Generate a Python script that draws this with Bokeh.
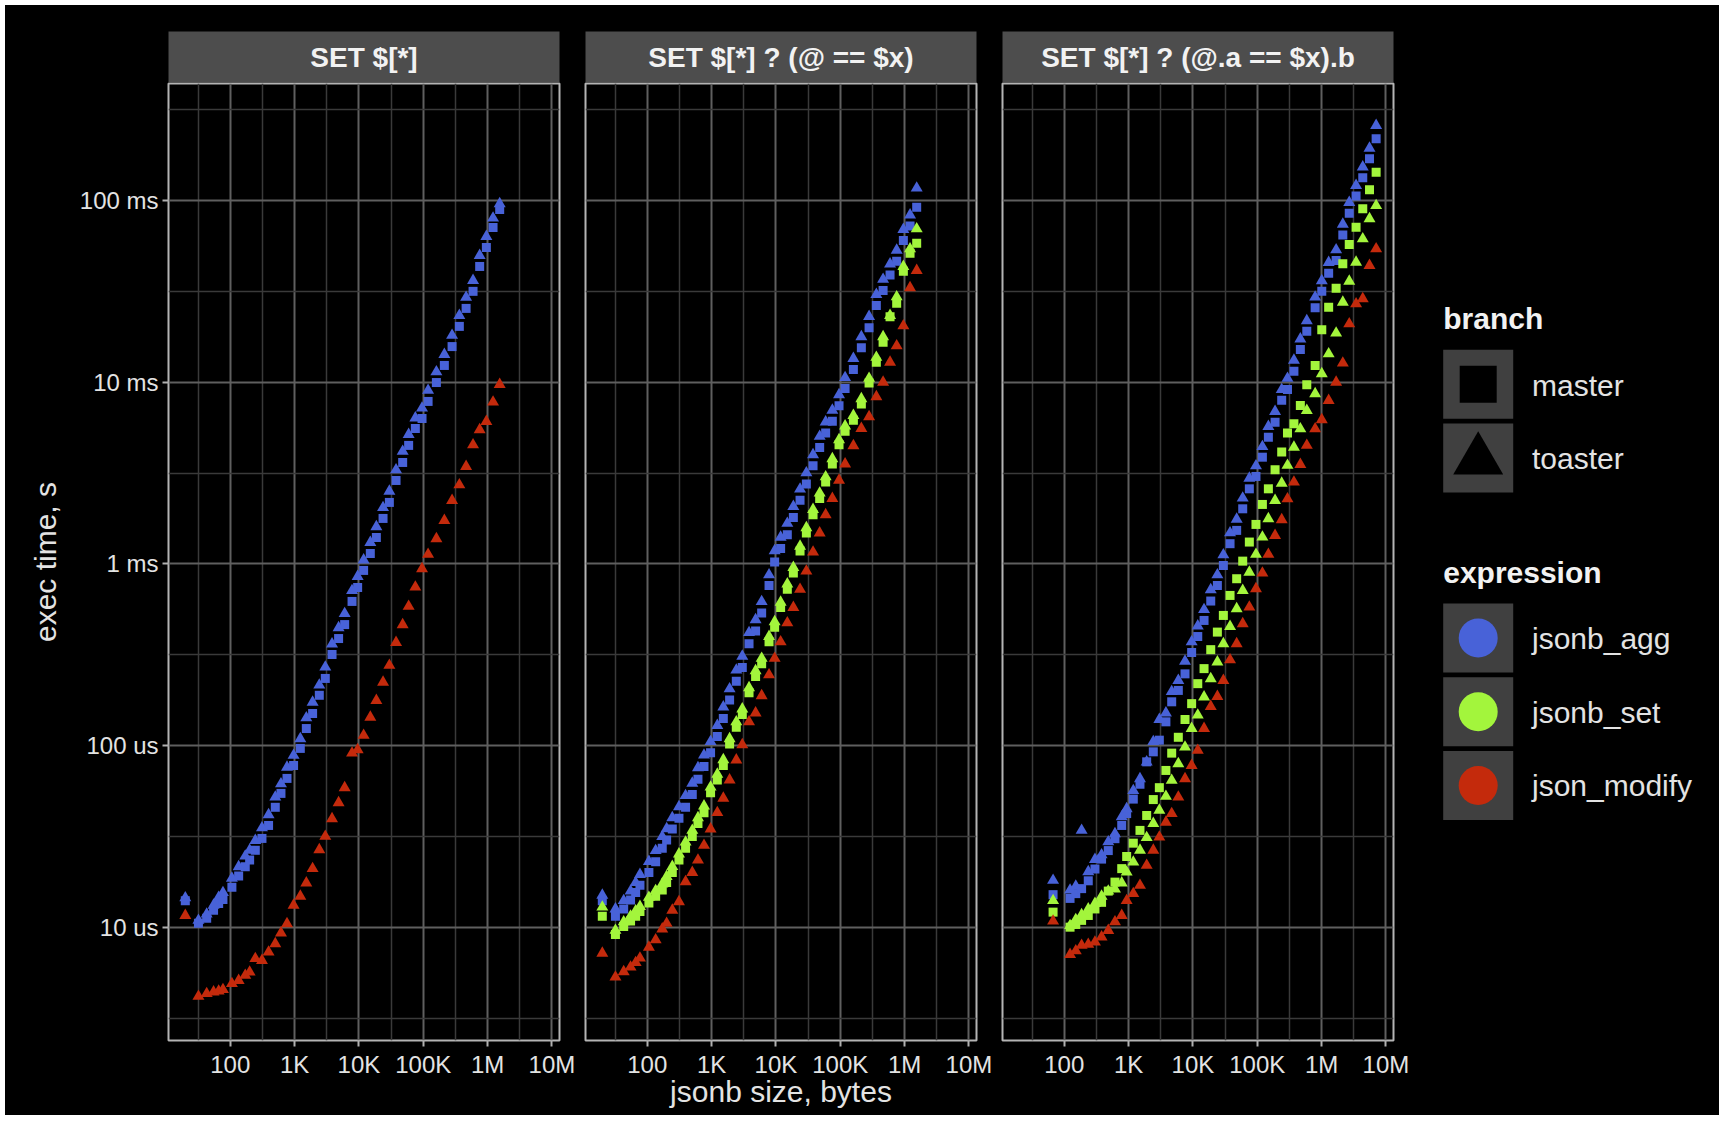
from bokeh.plotting import figure
from bokeh.layouts import row, column
from bokeh.models import Range1d, FixedTicker
from bokeh.core.properties import value
from bokeh.embed import file_html
from bokeh.resources import INLINE

FONT = "Liberation Sans"
BG = "#000000"

PANELS = ["SET $[*]", "SET $[*] ? (@ == $x)", "SET $[*] ? (@.a == $x).b"]
EXPRESSIONS = ["jsonb_agg", "jsonb_set", "json_modify"]
BRANCHES = ["master", "toaster"]
COLORS = {"jsonb_agg": "#4862D8", "jsonb_set": "#A3F53C", "json_modify": "#C42A0C"}

X_TICKS = [1e2, 1e3, 1e4, 1e5, 1e6, 1e7]
X_LABELS = ["100", "1K", "10K", "100K", "1M", "10M"]
Y_TICKS = [1e-5, 1e-4, 1e-3, 1e-2, 1e-1]
Y_LABELS = ["10 us", "100 us", "1 ms", "10 ms", "100 ms"]

# jsonb sizes, bytes
SIZES_AB = [20, 32, 43, 55, 66, 77, 106, 135, 171, 200, 245, 311, 394, 501, 614, 762, 964,
            1227, 1521, 1905, 2421, 3000, 3819, 4831, 6000, 7816, 9550, 11830, 15030, 18660,
            23710, 29720, 37760, 47860, 59290, 75340, 95720, 118900, 160000, 212800, 280500,
            363900, 463400, 594300, 753400, 957200, 1216000, 1542000]
SIZES_C = [67, 123, 151, 186, 236, 300, 380, 483, 614, 782, 933, 1183, 1503, 1910, 2421, 3006,
           3802, 4677, 5929, 7534, 9550, 11890, 14890, 18920, 23990, 29720, 37760, 47860, 59430,
           75340, 95500, 120200, 148900, 189200, 239900, 295100, 371500, 467700, 588800, 794300,
           1007000, 1288000, 1683000, 2138000, 2692000, 3436000, 4365000, 5559000, 7047000]

# exec times, microseconds
P1_AGG_MASTER = [14.0, 10.5, 11.2, 12.4, 13.5, 14.2, 16.6, 19.1, 21.5, 23.4, 26.5, 30.8, 36.3, 45.7,
                 54.5, 65.9, 77.6, 96.4, 124, 150, 189, 234, 317, 388, 463, 621, 741, 920, 1140,
                 1396, 1778, 2178, 2877, 3614, 4487, 5559, 6310, 7834, 9954, 12360, 15700, 20280,
                 25470, 31620, 43350, 55080, 70960, 89130]
P1_AGG_TOASTER = [14.5, 10.9, 11.8, 13.2, 14.6, 15.5, 18.6, 21.5, 24.6, 26.5, 30.0, 35.2, 41.6, 52.0,
                  61.5, 75.9, 88.3, 109, 142, 173, 215, 270, 362, 445, 532, 712, 852, 1050, 1310,
                  1600, 2040, 2510, 3290, 4160, 5150, 6350, 7200, 9020, 11400, 14200, 18100, 23300,
                  29300, 36300, 49800, 63400, 80000, 96000]
P1_MOD_TOASTER = [11.6, 4.16, 4.31, 4.40, 4.45, 4.53, 4.89, 5.09, 5.43, 5.66, 6.71, 6.56, 7.29, 8.11,
                  9.29, 10.45, 13.2, 14.8, 17.5, 21.0, 26.7, 31.6, 39.5, 48.4, 58.6, 90.8, 94.8, 113.8,
                  143, 177, 223, 276, 369, 462, 583, 745, 940, 1127, 1374, 1734, 2234, 2723, 3436,
                  4519, 5470, 6081, 7762, 9705]

P2_AGG_MASTER = [14.0, 11.5, 12.6, 14.1, 15.5, 17.0, 20.0, 22.9, 27.2, 30.2, 34.7, 39.8, 45.7, 53.7,
                 65.3, 76.7, 91.2, 112, 141, 178, 226, 269, 363, 427, 537, 759, 1023, 1216, 1445,
                 1799, 2239, 2754, 3467, 4365, 5248, 6095, 7413, 9226, 11750, 15490, 19950, 26420,
                 31990, 38900, 46240, 60260, 72440, 91830]
P2_AGG_TOASTER = [15.0, 12.6, 14.0, 15.8, 17.6, 19.5, 23.0, 26.4, 31.5, 34.8, 40.0, 46.0, 53.0, 62.0,
                  75.5, 88.5, 105, 129, 163, 205, 260, 310, 418, 492, 620, 870, 1180, 1400, 1670,
                  2070, 2580, 3170, 3990, 5030, 6040, 7010, 8530, 10600, 13500, 17800, 23000, 30400,
                  36800, 44700, 53200, 69300, 83300, 117000]
P2_SET_MASTER = [11.5, 9.12, 10.1, 10.8, 11.5, 12.2, 13.6, 14.8, 16.0, 17.6, 20.0, 23.4, 27.2, 31.6,
                 37.2, 42.7, 55.0, 64.6, 77.6, 102, 126, 148, 195, 240, 282, 372, 447, 575, 724, 891,
                 1175, 1479, 1862, 2291, 2818, 3548, 4519, 5370, 6166, 7586, 9886, 12880, 16600,
                 22910, 27230, 40740, 51290, 58210]
P2_SET_TOASTER = [12.9, 9.6, 10.7, 11.5, 12.3, 13.0, 14.6, 15.9, 17.3, 19.0, 21.6, 25.3, 29.4, 34.1,
                  40.0, 46.5, 59.0, 69.5, 83.5, 109, 135, 159, 208, 258, 302, 398, 480, 615, 775, 955,
                  1250, 1580, 1990, 2450, 3010, 3790, 4820, 5740, 6560, 8100, 10500, 13700, 17800,
                  23300, 29500, 43300, 54200, 69800]
P2_MOD_TOASTER = [7.19, 5.31, 5.69, 6.03, 6.38, 6.76, 7.76, 8.51, 9.77, 10.5, 12.4, 13.8, 17.8, 20.0,
                  23.4, 28.2, 34.7, 42.7, 51.3, 64.6, 83.2, 101, 135, 151, 188, 245, 302, 372, 473,
                  575, 724, 912, 1161, 1479, 1862, 2291, 2884, 3548, 4467, 5559, 6457, 8318, 10000,
                  12880, 15850, 20420, 33110, 41210]

P3_AGG_MASTER = [15.1, 14.4, 15.3, 16.3, 18.0, 20.9, 23.7, 26.4, 30.7, 36.3, 42.2, 50.7, 61.2, 81.3,
                 92.3, 107, 135, 174, 201, 248, 325, 398, 488, 624, 760, 979, 1291, 1528, 2009, 2588,
                 3027, 3864, 4977, 6026, 7943, 9120, 11480, 15140, 19050, 25700, 31620, 39810, 46770,
                 64570, 85110, 105900, 133400, 169800, 218800]
P3_AGG_TOASTER = [18.1, 16.0, 16.8, 34.1, 20.2, 23.6, 25.0, 29.5, 32.7, 40.5, 44.9, 56.5, 65.6, 81.1,
                  105, 139, 151, 198, 228, 291, 372, 455, 560, 720, 870, 1120, 1480, 1760, 2300, 2960,
                  3460, 4420, 5700, 6900, 9100, 10500, 13200, 17300, 21800, 29400, 36200, 45600,
                  53500, 74000, 97500, 121000, 153000, 194000, 259000]
P3_SET_MASTER = [12.1, 10.0, 10.35, 10.9, 11.6, 12.6, 13.7, 15.8, 17.7, 21.0, 24.5, 29.0, 34.1, 41.2,
                 50.4, 58.6, 72.9, 90.8, 111, 139, 170, 219, 265, 337, 421, 520, 670, 828, 1035, 1318,
                 1648, 2123, 2588, 3296, 4121, 5248, 5902, 7447, 9683, 12360, 19410, 25880, 32890,
                 44870, 57280, 71290, 89950, 114600, 143200]
P3_SET_TOASTER = [14.0, 10.2, 11.0, 11.7, 12.6, 13.5, 14.8, 15.8, 16.2, 17.5, 20.1, 22.8, 26.5, 31.1,
                  37.2, 44.0, 52.5, 64.3, 79.4, 98.0, 124, 147, 185, 233, 288, 363, 452, 566, 714, 899,
                  1127, 1403, 1770, 2234, 2780, 3483, 4385, 5534, 6982, 8630, 11120, 14320, 18620,
                  27540, 35970, 45710, 61520, 79430, 93760]
P3_MOD_TOASTER = [10.8, 7.08, 7.41, 7.94, 8.04, 8.28, 8.83, 9.59, 10.7, 11.6, 14.0, 15.3, 17.0, 21.9,
                  26.5, 31.3, 37.8, 42.2, 52.0, 65.6, 77.6, 94.0, 124, 164, 186, 228, 296, 363, 468,
                  578, 729, 889, 1127, 1432, 1750, 2280, 2818, 3524, 4487, 5534, 6209, 7925, 10000,
                  12740, 20940, 26980, 28770, 43850, 54200]

SERIES = [
    [("jsonb_agg", "master", SIZES_AB, P1_AGG_MASTER),
     ("jsonb_agg", "toaster", SIZES_AB, P1_AGG_TOASTER),
     ("json_modify", "toaster", SIZES_AB, P1_MOD_TOASTER)],
    [("jsonb_agg", "master", SIZES_AB, P2_AGG_MASTER),
     ("jsonb_set", "master", SIZES_AB, P2_SET_MASTER),
     ("jsonb_agg", "toaster", SIZES_AB, P2_AGG_TOASTER),
     ("jsonb_set", "toaster", SIZES_AB, P2_SET_TOASTER),
     ("json_modify", "toaster", SIZES_AB, P2_MOD_TOASTER)],
    [("jsonb_agg", "master", SIZES_C, P3_AGG_MASTER),
     ("jsonb_set", "master", SIZES_C, P3_SET_MASTER),
     ("jsonb_agg", "toaster", SIZES_C, P3_AGG_TOASTER),
     ("jsonb_set", "toaster", SIZES_C, P3_SET_TOASTER),
     ("json_modify", "toaster", SIZES_C, P3_MOD_TOASTER)],
]

X_RANGE = (10.96, 1.312e7)
Y_RANGE = (2.378e-6, 0.4406)
FRAME_W = 391
FRAME_H = 957
STRIP_H = 51
EDGE_TOP, EDGE_LEFT, EDGE_BOTTOM = 5, 5, 6   # thin white page margin of the original screenshot
TOP_PAD = 31 - EDGE_TOP
BOTTOM = 81 - EDGE_BOTTOM

TEXT_COL = "#e3e3e3"
GRID_MAJOR = "#5f5f5f"
GRID_MINOR = "#3a3a3a"
BORDER = "#b4b4b4"
STRIP_FILL = "#4d4d4d"
KEY_FILL = "#404040"

X_MINOR = [10 ** (k + 0.5) for k in range(0, 8)]
Y_MINOR = [10 ** (k + 0.5) for k in range(-7, 0)]


def strip_fig(label, lb, rb):
    s = figure(width=lb + FRAME_W + rb, height=TOP_PAD + STRIP_H,
               x_range=Range1d(0, 1), y_range=Range1d(0, 1),
               output_backend="svg", toolbar_location=None, title=None,
               x_axis_location=None, y_axis_location=None,
               min_border_left=lb, min_border_right=rb, min_border_top=TOP_PAD,
               min_border_bottom=0, background_fill_color=STRIP_FILL,
               border_fill_color=BG, outline_line_color=None)
    s.xgrid.visible = False
    s.ygrid.visible = False
    s.text(x=[0.5], y=[0.5], text=[label], text_font=value(FONT), text_font_size="28px",
           text_font_style="bold", text_color="#f2f2f2", text_align="center",
           text_baseline="middle")
    return s


def panel_fig(idx, lb, rb, show_y):
    p = figure(width=lb + FRAME_W + rb, height=1 + FRAME_H + BOTTOM,
               x_axis_type="log", y_axis_type="log",
               x_range=Range1d(*X_RANGE), y_range=Range1d(*Y_RANGE),
               output_backend="svg", toolbar_location=None, title=None,
               y_axis_location="left" if show_y else None,
               min_border_left=lb, min_border_right=rb, min_border_top=1,
               min_border_bottom=BOTTOM, background_fill_color=BG, border_fill_color=BG,
               outline_line_color=BORDER, outline_line_width=2)
    xt = FixedTicker(ticks=X_TICKS, minor_ticks=X_MINOR)
    yt = FixedTicker(ticks=Y_TICKS, minor_ticks=Y_MINOR)
    p.xaxis.ticker = xt
    p.xgrid.ticker = xt
    p.ygrid.ticker = yt
    p.xaxis.major_label_overrides = dict(zip(X_TICKS, X_LABELS))
    p.xaxis.axis_label = "jsonb size, bytes"
    if show_y:
        p.yaxis.ticker = yt
        p.yaxis.major_label_overrides = dict(zip(Y_TICKS, Y_LABELS))
        p.yaxis.axis_label = "exec time, s"
    for ax in p.axis:
        ax.axis_line_color = None
        ax.major_tick_line_color = "#b0b0b0"
        ax.major_tick_line_width = 2
        ax.major_tick_out = 6
        ax.major_tick_in = 0
        ax.minor_tick_line_color = None
        ax.major_label_text_font = FONT
        ax.major_label_text_font_size = "24px"
        ax.major_label_text_color = TEXT_COL
        ax.major_label_standoff = 4
        ax.axis_label_text_font = FONT
        ax.axis_label_text_font_size = "30px"
        ax.axis_label_text_font_style = "normal"
        ax.axis_label_text_color = TEXT_COL
    p.xaxis.axis_label_standoff = -6
    if show_y:
        p.yaxis.axis_label_standoff = 15
    if idx != 1:
        p.xaxis.axis_label_text_alpha = 0.0
    for g in (p.xgrid, p.ygrid):
        g.grid_line_color = GRID_MAJOR
        g.grid_line_width = 2
        g.minor_grid_line_color = GRID_MINOR
        g.minor_grid_line_width = 1.5
    for expr, branch, xs, us in SERIES[idx]:
        ys = [v * 1e-6 for v in us]
        if branch == "master":
            p.scatter(xs, ys, marker="square", size=9, fill_color=COLORS[expr],
                      line_color=None)
        else:
            p.scatter(xs, ys, marker="triangle", size=12, fill_color=COLORS[expr],
                      line_color=None)
    return p


borders = [(168 - EDGE_LEFT, 20, True), (6, 20, False), (6, 20, False)]
cols = []
for i, (lb, rb, showy) in enumerate(borders):
    cols.append(column(strip_fig(PANELS[i], lb, rb), panel_fig(i, lb, rb, showy), spacing=0))

used = EDGE_LEFT + sum(lb + FRAME_W + rb for lb, rb, _ in borders)
LW = 1719 - used
LH = 1121 - EDGE_TOP - EDGE_BOTTOM
leg = figure(width=LW, height=LH, x_range=Range1d(0, LW),
             y_range=Range1d(1121 - EDGE_BOTTOM, EDGE_TOP),
             output_backend="svg", toolbar_location=None, title=None,
             x_axis_location=None, y_axis_location=None, min_border=0,
             background_fill_color=BG, border_fill_color=BG, outline_line_color=None)
leg.xgrid.visible = False
leg.ygrid.visible = False
x0 = 1442.7 - used
kx = x0 + 35
lx = 1531.5 - used
leg.text(x=[x0, x0], y=[318, 572], text=["branch", "expression"], text_font=value(FONT),
         text_font_size="30px", text_font_style="bold", text_color="#f2f2f2",
         text_align="left", text_baseline="middle")
key_y_branch = [383.7, 457.6]
key_y_expr = [637.5, 711.2, 785]
leg.rect(x=[kx] * 5, y=key_y_branch + key_y_expr, width=70, height=69,
         fill_color=KEY_FILL, line_color=None)
leg.scatter(x=[kx], y=[key_y_branch[0]], marker="square", size=37, fill_color="black",
            line_color=None)
leg.scatter(x=[kx], y=[key_y_branch[1] + 2], marker="triangle", size=50, fill_color="black",
            line_color=None)
leg.scatter(x=[kx] * 3, y=key_y_expr, marker="circle", size=39,
            fill_color=[COLORS[e] for e in EXPRESSIONS], line_color=None)
leg.text(x=[lx] * 5, y=[385, 458, 638, 712, 785], text=BRANCHES + EXPRESSIONS,
         text_font=value(FONT), text_font_size="30px", text_color=TEXT_COL,
         text_align="left", text_baseline="middle")

layout = row(*cols, leg, spacing=0, margin=(EDGE_TOP, 0, EDGE_BOTTOM, EDGE_LEFT),
             styles={"background-color": "black"})
open("out.html", "w").write(file_html(layout, INLINE))
